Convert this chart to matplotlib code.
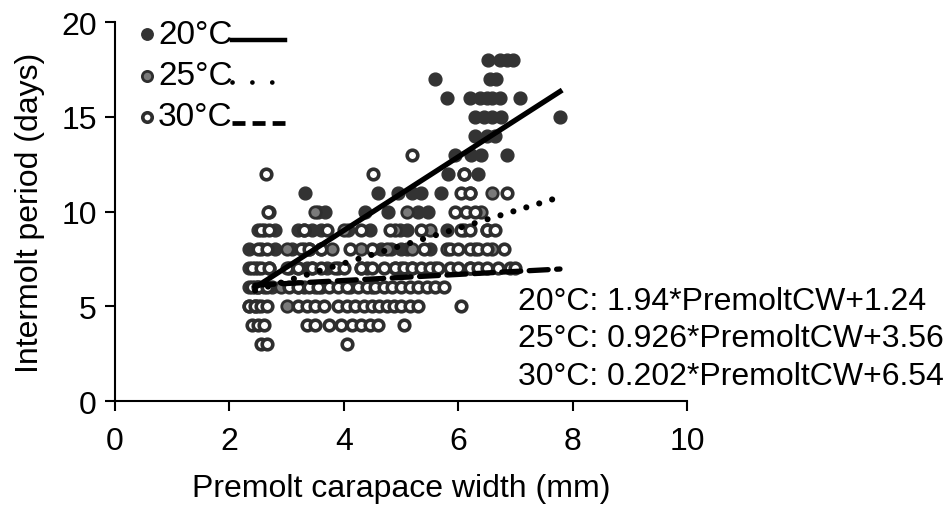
import matplotlib
matplotlib.use("Agg")
import matplotlib.pyplot as plt
import numpy as np

plt.rcParams['font.family'] = ['Liberation Sans', 'DejaVu Sans']

# ---- data ----
# 20°C observations: intermolt period (days) -> premolt CW values (mm)
t20 = {
    5: [2.35, 2.5],
    6: [2.35, 2.45, 2.6, 2.75, 3.2, 3.5],
    7: [2.35, 2.5, 3.2, 3.35, 3.7, 4.3, 4.9, 5.2],
    8: [2.35, 2.8, 3.1, 3.3, 3.6, 4.65, 4.82, 5.0, 5.1, 5.5],
    9: [2.5, 2.8, 3.2, 3.45, 3.6, 4.07, 4.45, 4.99, 5.1, 5.8],
    10: [3.55, 3.67, 4.37, 4.77, 5.3, 5.47],
    11: [3.32, 4.6, 4.95, 5.2, 5.35, 5.7],
    12: [5.82, 6.35],
    13: [5.95, 6.22, 6.4, 6.85],
    14: [6.3, 6.5, 6.64],
    15: [6.3, 6.45, 6.6, 6.75, 7.78],
    16: [5.8, 6.2, 6.38, 6.5, 6.6, 6.73, 7.08],
    17: [5.6, 6.55, 6.66],
    18: [6.52, 6.73, 6.85, 6.96],
}
t25 = {
    5: [2.45, 3.0],
    6: [2.5, 2.9, 3.3, 3.6, 4.1, 4.5],
    7: [2.45, 2.7, 3.05, 3.45, 3.9, 4.4, 5.0, 5.6, 6.2],
    8: [2.55, 3.0, 3.4, 3.8, 4.3, 4.75, 5.2, 5.8, 6.3, 6.6],
    9: [2.6, 3.3, 4.0, 4.9, 5.5, 6.1, 6.5],
    10: [2.7, 3.5, 5.1, 6.4],
    11: [6.2, 6.6],
    12: [6.1],
}
t30 = {
    3: [2.55, 2.65, 4.05],
    4: [2.4, 2.5, 2.6, 3.35, 3.5, 3.75, 3.95, 4.15, 4.3, 4.45, 4.6, 5.05],
    5: [2.35, 2.45, 2.55, 2.65, 3.2, 3.35, 3.5, 3.65, 3.9, 4.05, 4.2, 4.35,
        4.5, 4.62, 4.75, 4.88, 5.0, 5.15, 5.3, 6.05],
    6: [2.4, 2.5, 2.65, 3.05, 3.2, 3.4, 3.55, 3.75, 3.9, 4.05, 4.25, 4.4,
        4.55, 4.7, 4.85, 5.0, 5.15, 5.3, 5.45, 5.6, 5.75],
    7: [2.4, 2.55, 2.7, 3.0, 3.2, 3.45, 3.6, 3.85, 4.0, 4.3, 4.5, 4.7, 4.9,
        5.05, 5.2, 5.35, 5.5, 5.65, 5.85, 6.0, 6.2, 6.35, 6.5, 6.7, 6.9, 7.0],
    8: [2.5, 2.65, 3.25, 3.4, 3.6, 4.1, 4.5, 5.4, 5.85, 6.0, 6.2, 6.35, 6.5, 6.8],
    9: [2.55, 2.7, 3.3, 3.7, 4.3, 4.8, 5.35, 6.05, 6.2, 6.5, 6.65],
    10: [2.67, 5.95, 6.13, 6.3],
    11: [6.05, 6.2, 6.85],
    12: [2.64, 4.51, 6.1],
    13: [5.19],
}

series_labels = ['20°C', '25°C', '30°C']
# fitted lines as drawn (slope, intercept) and x-range
fit_slopes = [1.94, 0.926, 0.16]
fit_intercepts = [1.24, 3.56, 5.72]
fit_xrange = [2.45, 7.78]
equations = ['20°C: 1.94*PremoltCW+1.24',
             '25°C: 0.926*PremoltCW+3.56',
             '30°C: 0.202*PremoltCW+6.54']

x_ticks = [0, 2, 4, 6, 8, 10]
y_ticks = [0, 5, 10, 15, 20]


def flatten(d):
    xs, ys = [], []
    for yv, xl in d.items():
        xs.extend(xl)
        ys.extend([yv] * len(xl))
    return np.array(xs), np.array(ys)


fig = plt.figure(figsize=(9.52, 5.06), dpi=100)
ax = fig.add_axes([0.1208, 0.2055, 0.6008, 0.749])

face = ['#333333', '#7a7a7a', 'white']
edge = ['#333333', '#2e2e2e', '#2e2e2e']
lws = [1.0, 2.0, 2.6]
sizes = [85, 68, 58]
for d, fc, ec, lw, s in zip([t20, t25, t30], face, edge, lws, sizes):
    xs, ys = flatten(d)
    ax.scatter(xs, ys, s=s, facecolor=fc, edgecolor=ec, linewidth=lw,
               zorder=3, clip_on=False)

styles = [dict(linestyle='-', linewidth=3.8),
          dict(linestyle=(0, (0.01, 2.2)), linewidth=4.4, dash_capstyle='round'),
          dict(linestyle=(0, (3.6, 1.6)), linewidth=3.8, dash_capstyle='round')]
legend_styles = [dict(linestyle='-', linewidth=3.2),
                 dict(linestyle=(0, (0.01, 4.2)), linewidth=3.4, dash_capstyle='round'),
                 dict(linestyle=(0, (2.75, 1.5)), linewidth=3.4, dash_capstyle='butt')]
xr = np.array(fit_xrange)
for m, b, st in zip(fit_slopes, fit_intercepts, styles):
    ax.plot(xr, m * xr + b, color='black', zorder=4, **st)

ax.set_xlim(0, 10)
ax.set_ylim(0, 20)
ax.set_xticks(x_ticks)
ax.set_yticks(y_ticks)
for s in ['top', 'right']:
    ax.spines[s].set_visible(False)
for s in ['left', 'bottom']:
    ax.spines[s].set_linewidth(1.5)
ax.tick_params(direction='out', length=7, width=1.5, labelsize=23, pad=6)
ax.tick_params(axis='x', pad=11)
ax.set_xlabel('Premolt carapace width (mm)', fontsize=23, labelpad=12)
ax.set_ylabel('Intermolt period (days)', fontsize=23, labelpad=12)

# custom legend (marker, label, line sample)
leg_y = [0.968, 0.858, 0.750]
leg_line_dy = -0.016
for i, lab in enumerate(series_labels):
    ax.scatter([0.056], [leg_y[i]], s=sizes[i] * 0.8, facecolor=face[i],
               edgecolor=edge[i], linewidth=lws[i], transform=ax.transAxes,
               clip_on=False, zorder=5)
    ax.text(0.075, leg_y[i], lab, transform=ax.transAxes, fontsize=24,
            va='center', ha='left')
    ax.plot([0.205, 0.297], [leg_y[i] + leg_line_dy] * 2, color='black',
            transform=ax.transAxes, clip_on=False, **legend_styles[i])

# equations
eq_y = [0.265, 0.165, 0.065]
for i, t in enumerate(equations):
    ax.text(0.704, eq_y[i], t, transform=ax.transAxes, fontsize=23,
            va='center', ha='left', clip_on=False)

fig.savefig('out.png', dpi=100)
